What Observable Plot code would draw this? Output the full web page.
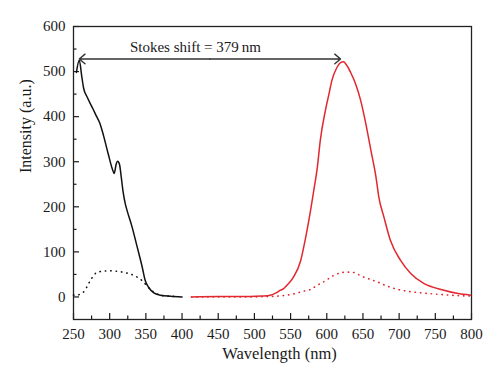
<!DOCTYPE html>
<html><head><meta charset="utf-8">
<script src="https://cdn.jsdelivr.net/npm/d3@7"></script>
<script src="https://cdn.jsdelivr.net/npm/@observablehq/plot@0.6"></script>
<style>body{margin:0;background:#fff}</style>
</head><body><div id="chart"></div>
<script>
// Absorption (black solid)
const absX = [254, 258, 261.6, 264, 269, 277, 282, 286, 291.5, 298, 304.5, 306.3, 309, 311, 313.6, 316, 318.3, 321.5, 324, 331, 338, 345, 349, 354, 361, 370, 384, 400];
const absY = [498, 525, 487, 463, 443, 417, 400, 387, 358, 317, 280, 274, 295, 301, 294, 266, 236, 207, 192, 155, 111, 66, 37, 21, 9, 4, 1.5, 0];
// Excitation (black dotted)
const exX = [250, 255, 260, 265, 271, 275, 282, 290, 300, 310, 318, 330, 338, 345, 353, 360, 370, 380, 395];
const exY = [4, 4, 7, 13, 30, 41, 54, 57, 58, 57, 55, 50, 44, 36, 22, 12, 4, 2, 1];
// Emission (red solid)
const emX = [413, 450, 494, 510, 522, 530, 536, 540, 545, 554, 564, 570, 576, 582, 587, 591, 598, 603, 607, 614, 619, 623, 628, 633, 640, 647, 654, 661, 668, 672, 679, 688, 702, 716, 734, 762, 780, 799];
const emY = [0, 1, 1, 2, 4, 9, 15, 18, 26, 44, 81, 125, 177, 236, 288, 347, 413, 450, 480, 509, 520, 522, 513, 498, 472, 435, 384, 325, 266, 221, 177, 125, 81, 52, 30, 15, 8, 4];
// Emission (red dotted)
const em2X = [413, 450, 494, 520, 540, 555, 566, 578, 587, 595, 603, 610, 620, 627, 634, 641, 648, 655, 662, 669, 682, 693, 710, 725, 745, 762, 780, 799];
const em2Y = [0, 0, 0, 1, 3, 7, 12, 17, 26, 33, 41, 48, 54, 55, 55, 52, 46, 42, 38, 34, 25, 19, 13, 10, 7, 5, 3, 2];
// Stokes shift arrow
const arrowX = [258, 619];
const arrowY = 528;
const stokesLabel = "Stokes shift = 379\u2009nm";
const xLabel = "Wavelength (nm)";
const yLabel = "Intensity (a.u.)";
// Ticks
const xMajor = d3.range(250, 801, 50);
const xMinor = d3.range(275, 800, 50);
const yMajor = d3.range(0, 601, 100);
const yMinor = d3.range(50, 600, 100);

const rows = (xs, ys) => xs.map((x, i) => ({x, y: ys[i]}));
const mid = (arrowX[0] + arrowX[1]) / 2;
const arrows = [{x1: mid, x2: arrowX[0], y: arrowY}, {x1: mid, x2: arrowX[1], y: arrowY}];
const font = "'Liberation Serif', 'DejaVu Serif', serif";

const chart = Plot.plot({
  width: 500, height: 386,
  marginLeft: 73, marginRight: 29, marginTop: 26, marginBottom: 67,
  style: {fontFamily: font, fontSize: "15px", color: "#1a1a1a", background: "white"},
  x: {domain: [250, 800]},
  y: {domain: [-50, 600]},
  marks: [
    Plot.axisX(xMajor, {tickSize: 0, tickPadding: 9, label: null}),
    Plot.axisX(xMajor, {tickSize: -6, tickFormat: () => "", label: null, strokeWidth: 1.2}),
    Plot.axisX(xMinor, {tickSize: -3.5, tickFormat: () => "", label: null, strokeWidth: 1.2}),
    Plot.axisY(yMajor, {tickSize: 0, tickPadding: 8, label: null}),
    Plot.axisY(yMajor, {tickSize: -6, tickFormat: () => "", label: null, strokeWidth: 1.2}),
    Plot.axisY(yMinor, {tickSize: -3.5, tickFormat: () => "", label: null, strokeWidth: 1.2}),
    Plot.text([xLabel], {frameAnchor: "bottom", dx: 7, dy: 39, text: d => d, fontSize: 16.5, fill: "#1a1a1a"}),
    Plot.text([yLabel], {frameAnchor: "left", dx: -48, text: d => d, rotate: -90, fontSize: 16, fill: "#1a1a1a"}),
    Plot.frame({stroke: "#222", strokeWidth: 1.3}),
    Plot.line(rows(exX, exY), {x: "x", y: "y", stroke: "#111", strokeWidth: 1.6, strokeDasharray: "0.4 5", strokeLinecap: "round", curve: "monotone-x"}),
    Plot.line(rows(em2X, em2Y), {x: "x", y: "y", stroke: "#e0282e", strokeWidth: 1.6, strokeDasharray: "0.4 5", strokeLinecap: "round", curve: "monotone-x"}),
    Plot.line(rows(absX, absY), {x: "x", y: "y", stroke: "#111", strokeWidth: 1.5, curve: "monotone-x"}),
    Plot.line(rows(emX, emY), {x: "x", y: "y", stroke: "#e0282e", strokeWidth: 1.5, curve: "monotone-x"}),
    Plot.arrow(arrows, {x1: "x1", x2: "x2", y1: "y", y2: "y", stroke: "#333", strokeWidth: 1.4, headLength: 8, headAngle: 80}),
    Plot.text([stokesLabel], {x: mid - 20, y: 553, text: d => d, fontSize: 15, fill: "#1a1a1a"})
  ]
});
document.getElementById("chart").appendChild(chart);
</script>
</body></html>
